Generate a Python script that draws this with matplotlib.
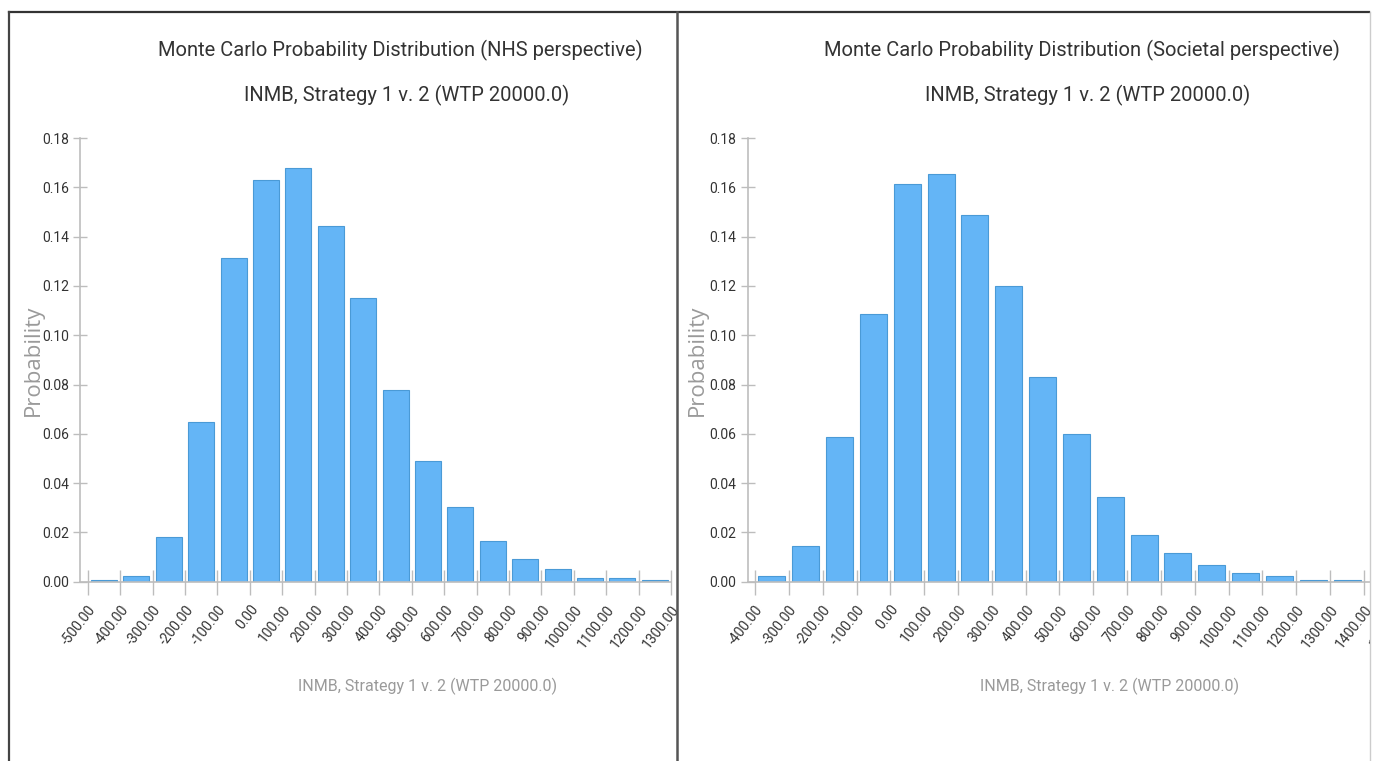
import matplotlib.pyplot as plt
from matplotlib.patches import Rectangle
from matplotlib.lines import Line2D

# Données (probabilité par classe de 100)
nhs_edges = list(range(-500, 1301, 100))
nhs_prob = [0.0005, 0.0023, 0.0183, 0.0646, 0.1315, 0.1628, 0.1680, 0.1444,
            0.1152, 0.0779, 0.0491, 0.0304, 0.0166, 0.0093, 0.0053, 0.0015,
            0.0016, 0.0006]

soc_edges = list(range(-400, 1501, 100))
soc_prob = [0.0023, 0.0146, 0.0585, 0.1084, 0.1612, 0.1654, 0.1489, 0.1201,
            0.0832, 0.0600, 0.0342, 0.0188, 0.0118, 0.0066, 0.0037, 0.0023,
            0.0008, 0.0007]

y_ticks = [0.00, 0.02, 0.04, 0.06, 0.08, 0.10, 0.12, 0.14, 0.16, 0.18]

titre_nhs = "Monte Carlo Probability Distribution (NHS perspective)"
titre_soc = "Monte Carlo Probability Distribution (Societal perspective)"
sous_titre = "INMB, Strategy 1 v. 2 (WTP 20000.0)"

W, H = 1381, 761
narrow = ['Roboto', 'DejaVu Sans']
bar_color = "#64B5F6"
edge_color = "#4a9ad6"
axis_color = "#bdbdbd"
text_color = "#333333"
grey_text = "#9a9a9a"

fig = plt.figure(figsize=(W / 100, H / 100), dpi=100)
fig.patch.set_facecolor("white")


def px(x, y):
    return x / W, 1 - y / H


def draw_panel(left_px, right_px, edges, probs, xlim):
    x0, _ = px(left_px, 0)
    ax = fig.add_axes([x0, 1 - 581.7 / H, (right_px - left_px) / W, (581.7 - 138) / H])
    centres = [edges[i] + 50 for i in range(len(probs))]
    ax.bar(centres, probs, width=80, color=bar_color, edgecolor=edge_color, linewidth=0.8)
    ax.set_xlim(*xlim)
    ax.set_ylim(0, 0.18)
    ax.set_yticks(y_ticks)
    ax.set_yticklabels(["%.2f" % v for v in y_ticks], family=narrow, fontsize=10, color=text_color)
    ax.set_xticks(edges)
    ax.set_xticklabels(["%.2f" % e for e in edges], family=narrow, fontsize=10, color=text_color,
                       rotation=52, ha="right", va="top", rotation_mode="anchor")
    for s in ["top", "right"]:
        ax.spines[s].set_visible(False)
    for s in ["left", "bottom"]:
        ax.spines[s].set_color(axis_color)
        ax.spines[s].set_linewidth(1.2)
    ax.tick_params(axis="y", direction="inout", length=10, color=axis_color, width=1, pad=3)
    ax.tick_params(axis="x", direction="inout", length=18, color=axis_color, width=1, pad=6)
    ax.patch.set_alpha(0)
    return ax


ax1 = draw_panel(80, 671, nhs_edges, nhs_prob, (-524, 1300))
ax2 = draw_panel(747.7, 1397.8, soc_edges, soc_prob, (-421.6, 1500))

# Titres
for cx, txt in [(400, titre_nhs), (1082, titre_soc)]:
    fig.text(*px(cx, 50), txt, family=narrow, fontsize=14.5, color=text_color, ha="center", va="center")
for cx in [407, 1088]:
    fig.text(*px(cx, 95), sous_titre, family=narrow, fontsize=14.5, color=text_color, ha="center", va="center")
for cx in [428, 1110]:
    fig.text(*px(cx, 686), sous_titre, family=narrow, fontsize=11.5, color=grey_text, ha="center", va="center")
for cx in [33, 697]:
    fig.text(*px(cx, 360), "Probability", family=["Open Sans", "DejaVu Sans"], fontsize=16,
             color=grey_text, rotation=90, ha="center", va="center")

# Cadre autour des panneaux
fig.patches.append(Rectangle(px(1370, H), 11 / W, 1, transform=fig.transFigure,
                             facecolor="white", edgecolor="none", zorder=10))
fig.lines.append(Line2D([8.5 / W, 1369 / W], [1 - 12 / H] * 2, transform=fig.transFigure,
                        color="#333333", linewidth=1.6, zorder=11))
fig.lines.append(Line2D([8.5 / W] * 2, [0, 1 - 12 / H], transform=fig.transFigure,
                        color="#444444", linewidth=1.6, zorder=11))
fig.lines.append(Line2D([676.7 / W] * 2, [0, 1 - 12 / H], transform=fig.transFigure,
                        color="#555555", linewidth=1.8, zorder=11))
fig.lines.append(Line2D([1369.5 / W] * 2, [0, 1 - 12 / H], transform=fig.transFigure,
                        color="#cccccc", linewidth=1, zorder=11))

plt.savefig("out.png", dpi=100)
